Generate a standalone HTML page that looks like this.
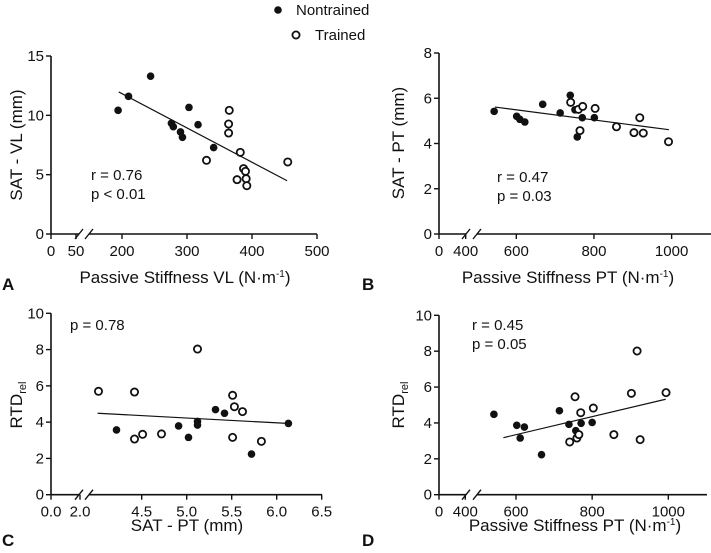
<!DOCTYPE html>
<html><head><meta charset="utf-8"><style>
body{margin:0;background:#fff;}
svg text{font-family:"Liberation Sans",Arial,sans-serif;fill:#111;}
</style></head><body>
<svg id="chart" width="711" height="548" viewBox="0 0 711 548" xmlns="http://www.w3.org/2000/svg">
<g>
<circle cx="278" cy="10" r="3.8" fill="#111"/>
<text x="296" y="15" font-size="15">Nontrained</text>
<circle cx="296" cy="35" r="3.6" fill="#fff" stroke="#111" stroke-width="1.8"/>
<text x="315" y="40" font-size="15">Trained</text>
</g>
</svg>
<script>
// Panel A
const aNonX=[194,210,244,276,279,290,293,303,317,341];
const aNonY=[10.42,11.6,13.3,9.33,9.04,8.6,8.15,10.67,9.21,7.28];
const aTrX=[365,364,364,330,382,455,377,387,390,391,392];
const aTrY=[10.42,9.27,8.51,6.21,6.88,6.07,4.58,5.51,5.28,4.66,4.07];
const aFitX=[195,454]; const aFitY=[11.97,4.49];
const aXTicks=[0,50,200,300,400,500]; const aYTicks=[0,5,10,15];
// Panel B
const bNonX=[543,601,609,622,668,713,739,751,757,770,801];
const bNonY=[5.42,5.2,5.07,4.95,5.73,5.35,6.13,5.49,4.29,5.14,5.14];
const bTrX=[740,760,771,764,803,858,903,918,927,992];
const bTrY=[5.82,5.51,5.64,4.57,5.55,4.74,4.48,5.14,4.46,4.08];
const bFitX=[545,993]; const bFitY=[5.61,4.61];
const bXTicks=[0,400,600,800,1000]; const bYTicks=[0,2,4,6,8];
// Panel C
const cNonX=[4.22,4.91,5.02,5.12,5.12,5.32,5.42,5.72,6.13];
const cNonY=[3.57,3.79,3.16,4.04,3.84,4.69,4.49,2.24,3.93];
const cTrX=[4.02,4.42,4.42,4.51,4.72,5.12,5.51,5.53,5.62,5.51,5.83];
const cTrY=[5.70,5.66,3.07,3.33,3.35,8.03,5.48,4.85,4.58,3.16,2.94];
const cFitX=[4.01,6.12]; const cFitY=[4.49,3.93];
const cXTicks=[0.0,2.0,4.5,5.0,5.5,6.0,6.5]; const cXTickLabels=["0.0","2.0","4.5","5.0","5.5","6.0","6.5"];
const cYTicks=[0,2,4,6,8,10];
// Panel D
const dNonX=[542,602,611,622,667,714,739,757,771,800];
const dNonY=[4.48,3.87,3.16,3.77,2.23,4.68,3.92,3.57,3.98,4.03];
const dTrX=[755,741,760,765,770,803,857,918,903,926,994];
const dTrY=[5.46,2.94,3.16,3.35,4.57,4.83,3.35,8.01,5.65,3.07,5.69];
const dFitX=[567,993]; const dFitY=[3.18,5.32];
const dXTicks=[0,400,600,800,1000]; const dYTicks=[0,2,4,6,8,10];

const NS="http://www.w3.org/2000/svg";
const svg=document.getElementById('chart');
function el(tag,attrs,parent){const e=document.createElementNS(NS,tag);for(const k in attrs)e.setAttribute(k,attrs[k]);(parent||svg).appendChild(e);return e;}

function panel(cfg){
  const g=el('g',{});
  
  
  const xs=v=> v<=cfg.b1 ? cfg.x0+(v/cfg.b1)*(cfg.x1-cfg.x0) : cfg.ax+(v-cfg.av)*cfg.ak;
  const ys=v=> cfg.y0-(v/cfg.ymax)*(cfg.y0-cfg.ytop);
  const ya=el('line',{x1:cfg.x0,y1:cfg.y0,x2:cfg.x0,y2:cfg.ytop,stroke:'#111','stroke-width':1.6},g);
  
  
  cfg.yticks.forEach(t=>{
    const y=ys(t);
    el('line',{x1:cfg.x0-5,y1:y,x2:cfg.x0,y2:y,stroke:'#111','stroke-width':1.4},g);
    const tx=el('text',{x:cfg.x0-7,y:y+5,'font-size':15,'text-anchor':'end'},g);
    tx.textContent=t;
    
    
  });
  const xa1=el('line',{x1:cfg.x0,y1:cfg.y0,x2:cfg.brk1,y2:cfg.y0,stroke:'#111','stroke-width':1.6},g);
  
  
  const xa2=el('line',{x1:cfg.brk2,y1:cfg.y0,x2:cfg.xend,y2:cfg.y0,stroke:'#111','stroke-width':1.6},g);
  
  
  [cfg.brk1,cfg.brk2].forEach(b=>{
    const s=el('line',{x1:b-4,y1:cfg.y0+5,x2:b+4,y2:cfg.y0-5,stroke:'#111','stroke-width':1.4},g);
    
    
  });
  cfg.xticks.forEach((t,i)=>{
    const x=xs(t);
    el('line',{x1:x,y1:cfg.y0,x2:x,y2:cfg.y0+5,stroke:'#111','stroke-width':1.4},g);
    const tx=el('text',{x:x,y:cfg.y0+22,'font-size':15,'text-anchor':'middle'},g);
    tx.textContent=cfg.xlabels?cfg.xlabels[i]:t;
    
    
  });
  const fl=el('line',{x1:xs(cfg.fx[0]),y1:ys(cfg.fy[0]),x2:xs(cfg.fx[1]),y2:ys(cfg.fy[1]),stroke:'#111','stroke-width':1.2},g);
  
  
  cfg.nx.forEach((v,i)=>{
    const c=el('circle',{cx:xs(v),cy:ys(cfg.ny[i]),r:3.8,fill:'#111'},g);
    
    
  });
  cfg.tx.forEach((v,i)=>{
    const c=el('circle',{cx:xs(v),cy:ys(cfg.ty[i]),r:3.6,fill:'#fff',stroke:'#111','stroke-width':1.8},g);
    
    
  });
  cfg.stats.forEach((s,i)=>{
    const t=el('text',{x:cfg.sx,y:cfg.sy+i*19,'font-size':15},g);
    t.textContent=s;
    
    
  });
  const xt=el('text',{x:cfg.xtx,y:cfg.xty,'font-size':17,'text-anchor':'middle'},g);
  xt.innerHTML=cfg.xtitle;
  
  
  const yt=el('text',{x:0,y:0,'font-size':17,'text-anchor':'middle',transform:`translate(${cfg.ytx},${cfg.yty}) rotate(-90)`},g);
  yt.innerHTML=cfg.ytitle;
  
  
  const pl=el('text',{x:cfg.lx,y:cfg.ly,'font-size':17,'font-weight':'bold'},g);
  pl.textContent=cfg.id;
  
  
}
const unit='(N·m<tspan font-size="10" dy="-6">-1</tspan><tspan dy="6">)</tspan>';
const rtd='RTD<tspan font-size="11" dy="4">rel</tspan>';
panel({id:'A',x0:51,x1:76,b1:50,ax:122,av:200,ak:0.65,brk1:79,brk2:89,xend:317,y0:234,ytop:56,ymax:15,
  xticks:aXTicks,yticks:aYTicks,nx:aNonX,ny:aNonY,tx:aTrX,ty:aTrY,fx:aFitX,fy:aFitY,
  stats:['r = 0.76','p < 0.01'],sx:91,sy:180,xtitle:'Passive Stiffness VL  '+unit,xtx:185,xty:283,ytitle:'SAT - VL (mm)',ytx:22,yty:145,lx:2,ly:290});
panel({id:'B',x0:439,x1:465.7,b1:400,ax:516.3,av:600,ak:0.3883,brk1:466,brk2:477,xend:711,y0:234,ytop:53,ymax:8,
  xticks:bXTicks,yticks:bYTicks,nx:bNonX,ny:bNonY,tx:bTrX,ty:bTrY,fx:bFitX,fy:bFitY,
  stats:['r = 0.47','p = 0.03'],sx:497,sy:182,xtitle:'Passive Stiffness PT  '+unit,xtx:568,xty:283,ytitle:'SAT - PT (mm)',ytx:404,yty:143,lx:362,ly:290});
panel({id:'C',x0:51,x1:80,b1:2,ax:141.7,av:4.5,ak:90,brk1:79,brk2:89,xend:322,y0:494.7,ytop:313.3,ymax:10,
  xticks:cXTicks,xlabels:cXTickLabels,yticks:cYTicks,nx:cNonX,ny:cNonY,tx:cTrX,ty:cTrY,fx:cFitX,fy:cFitY,
  stats:['p = 0.78'],sx:70,sy:330,xtitle:'SAT - PT (mm)',xtx:187,xty:531,ytitle:rtd,ytx:22,yty:405,lx:2,ly:546});
panel({id:'D',x0:439,x1:465.3,b1:400,ax:516,av:600,ak:0.3808,brk1:466,brk2:477,xend:707,y0:494.7,ytop:315.3,ymax:10,
  xticks:dXTicks,yticks:dYTicks,nx:dNonX,ny:dNonY,tx:dTrX,ty:dTrY,fx:dFitX,fy:dFitY,
  stats:['r = 0.45','p = 0.05'],sx:472,sy:330,xtitle:'Passive Stiffness PT  '+unit,xtx:575,xty:531,ytitle:rtd,ytx:404,yty:405,lx:362,ly:546});
</script>
</body></html>
